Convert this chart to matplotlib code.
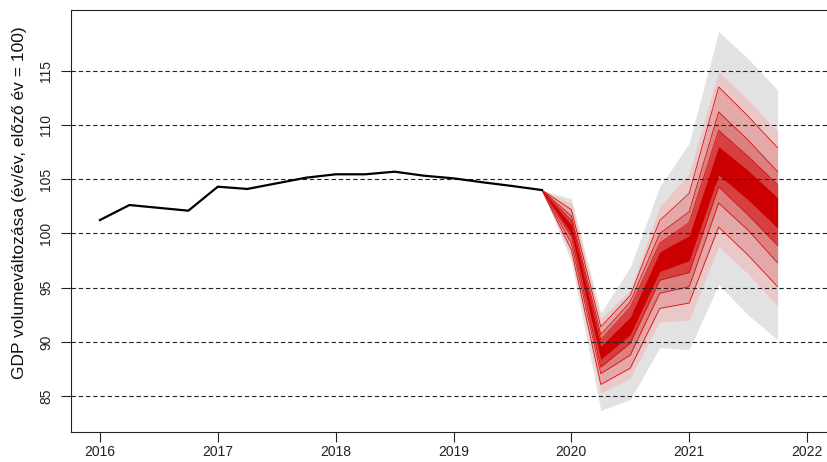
import numpy as np
import matplotlib.pyplot as plt

plt.rcParams['font.family'] = ['Liberation Sans', 'DejaVu Sans']

# Historical GDP index, quarterly
hist_x = [2016.0, 2016.25, 2016.5, 2016.75, 2017.0, 2017.25, 2017.5, 2017.75,
          2018.0, 2018.25, 2018.5, 2018.75, 2019.0, 2019.25, 2019.5, 2019.75]
hist_y = [101.24, 102.62, 102.36, 102.10, 104.31, 104.10, 104.62, 105.14,
          105.45, 105.45, 105.69, 105.32, 105.08, 104.71, 104.37, 104.00]

# Forecast fan, quarterly (starts at the last observed value)
fc_x = [2019.75, 2020.0, 2020.25, 2020.5, 2020.75, 2021.0, 2021.25, 2021.5, 2021.75]
median = [104.0, 100.4, 89.0, 91.4, 97.4, 98.7, 106.5, 104.5, 102.0]
gray_hi = [104.0, 103.2, 92.7, 96.9, 104.3, 108.3, 118.6, 116.1, 113.2]
gray_lo = [104.0, 97.4, 83.7, 84.7, 89.5, 89.3, 95.3, 92.5, 90.2]
pink_hi = [104.0, 102.8, 92.2, 94.8, 102.5, 105.5, 114.9, 112.3, 109.4]
pink_lo = [104.0, 97.9, 85.3, 86.7, 91.9, 92.0, 98.8, 96.3, 93.3]
line1_hi = [104.0, 102.2, 91.4, 94.3, 101.2, 103.7, 113.5, 110.8, 107.9]
line1_lo = [104.0, 98.5, 86.1, 87.6, 93.1, 93.6, 100.6, 98.0, 95.1]
line2_hi = [104.0, 101.6, 90.7, 93.7, 100.0, 102.0, 111.2, 108.6, 105.7]
line2_lo = [104.0, 99.1, 87.1, 88.8, 94.5, 95.1, 102.8, 100.3, 97.3]
line3_hi = [104.0, 101.2, 90.2, 93.2, 99.1, 101.0, 109.5, 107.1, 104.5]
line3_lo = [104.0, 99.7, 87.7, 89.9, 95.7, 96.4, 104.3, 101.7, 98.9]
core_hi = [104.0, 100.8, 89.6, 92.3, 98.3, 99.8, 108.0, 105.8, 103.3]
core_lo = [104.0, 100.0, 88.4, 90.7, 96.5, 97.5, 105.4, 103.1, 100.5]

y_ticks = [85, 90, 95, 100, 105, 110, 115]
x_ticks = [2016, 2017, 2018, 2019, 2020, 2021, 2022]

fig = plt.figure(figsize=(8.28, 4.62), dpi=100)
ax = fig.add_axes([71 / 828, 30 / 462, 1 - 71 / 828, 422 / 462])

# fan bands, outer to inner
bands = [
    (gray_lo, gray_hi, '#e2e2e2'),
    (pink_lo, pink_hi, '#eac8c8'),
    (line1_lo, line1_hi, '#e4a8a8'),
    (line2_lo, line2_hi, '#dc8080'),
    (line3_lo, line3_hi, '#d64040'),
    (core_lo, core_hi, '#cc0000'),
]
for lo, hi, col in bands:
    ax.fill_between(fc_x, lo, hi, color=col, lw=0, zorder=1)

for ln in [line1_hi, line1_lo, line2_hi, line2_lo, line3_hi, line3_lo]:
    ax.plot(fc_x, ln, color='#d81010', lw=0.6, zorder=2)

for v in y_ticks:
    ax.axhline(v, color='#222222', lw=0.8, ls=(0, (4, 2.5)), zorder=3)

ax.plot(hist_x, hist_y, color='black', lw=1.6, zorder=4)

ax.set_xlim(2015.754, 2022.178)
ax.set_ylim(81.72, 120.58)
ax.set_xticks(x_ticks)
ax.set_yticks(y_ticks)
ax.set_yticklabels([str(v) for v in y_ticks], rotation=90, va='center')
ax.tick_params(axis='x', length=7, width=0.8, pad=2.5, labelsize=10, colors='#222222')
ax.tick_params(axis='y', length=7, width=0.8, pad=6, labelsize=10, colors='#222222')

ax.spines['right'].set_visible(False)
for s in ['left', 'top', 'bottom']:
    ax.spines[s].set_linewidth(0.8)
    ax.spines[s].set_color('#222222')

fig.text(20 / 828, 1 - 203 / 462, 'GDP volumeváltozása (év/év, előző év = 100)',
         rotation=90, ha='center', va='center', fontsize=12.5, color='#111111')

fig.savefig('out.png', dpi=100)
